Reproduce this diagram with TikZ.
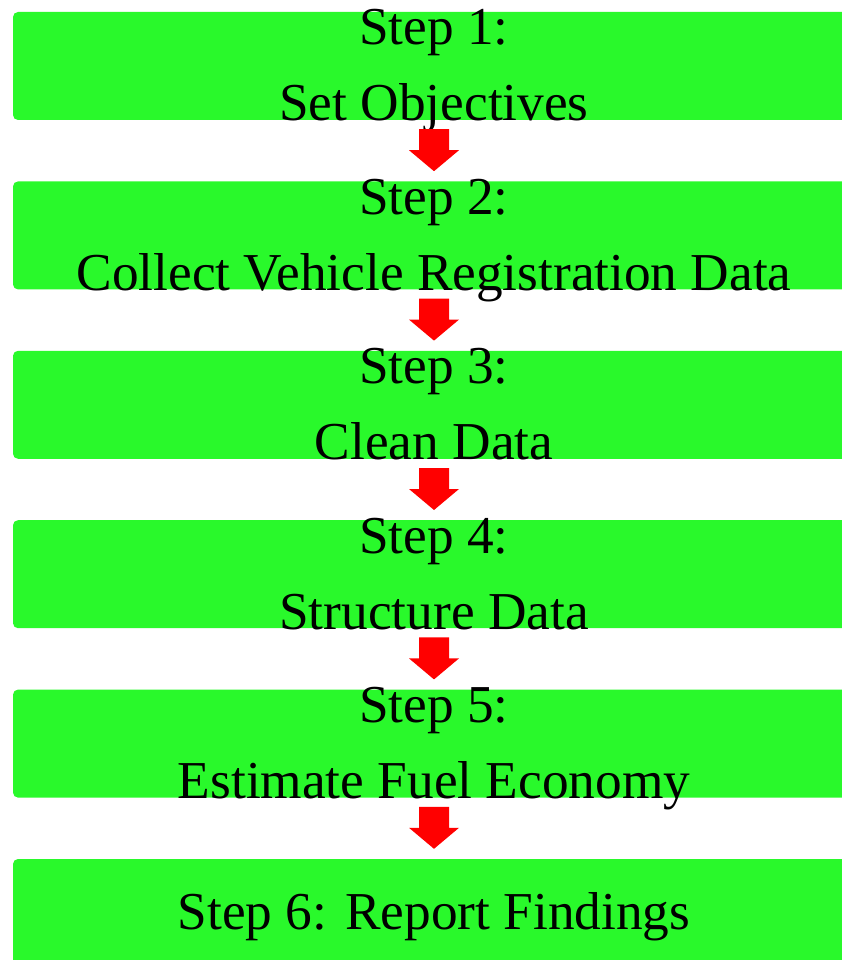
\documentclass[tikz,border=0pt]{standalone}
\usepackage{fontspec}
\setmainfont{Liberation Serif}
\usepackage{tikz}
\usetikzlibrary{shapes, arrows, calc, positioning}

\definecolor{boxgreen}{RGB}{41,249,43}

\begin{document}
\begin{tikzpicture}[>=stealth, node distance=61pt]
	\tikzstyle{stepbox} = [fill=boxgreen, rounded corners=5pt, minimum width=842pt, minimum height=108pt, inner sep=0pt]
	\tikzstyle{steptext} = [font=\fontsize{53.3}{76}\selectfont, align=center, anchor=north, inner sep=0pt]
	\tikzstyle{downarrow} = [fill=red]

	\useasboundingbox (0,0) rectangle (842pt,-960pt);

	\path
		node[stepbox] (1) at (434pt,-66pt) {}
		node[stepbox, below=of 1] (2) {}
		node[stepbox, below=of 2] (3) {}
		node[stepbox, below=of 3] (4) {}
		node[stepbox, below=of 4] (5) {}
		node[stepbox, below=of 5] (6) {}
	;

	\path
		node[steptext] (t1) at ($(1.north)+(0,7pt)$) {\rule{0pt}{40pt}Step 1:\\Set Objectives}
		node[steptext] (t2) at ($(2.north)+(0,7pt)$) {\rule{0pt}{40pt}Step 2:\\Collect Vehicle Registration Data}
		node[steptext] (t3) at ($(3.north)+(0,7pt)$) {\rule{0pt}{40pt}Step 3:\\Clean Data}
		node[steptext] (t4) at ($(4.north)+(0,7pt)$) {\rule{0pt}{40pt}Step 4:\\Structure Data}
		node[steptext] (t5) at ($(5.north)+(0,7pt)$) {\rule{0pt}{40pt}Step 5:\\Estimate Fuel Economy}
		node[steptext] (t6) at ($(6.north)+(0,-30pt)$) {\rule{0pt}{40pt}Step 6: Report Findings}
	;

	\foreach \a/\b in {1/2, 2/3, 3/4, 4/5, 5/6}
		\fill[downarrow] ($(\a.south)+(-15pt,-9pt)$) -- ++(30pt,0) -- ++(0,-21pt) -- ++(10pt,0)
			-- ($(\b.north)+(0,10pt)$) -- ++(-25pt,21pt) -- ++(10pt,0) -- cycle;
\end{tikzpicture}
\end{document}
